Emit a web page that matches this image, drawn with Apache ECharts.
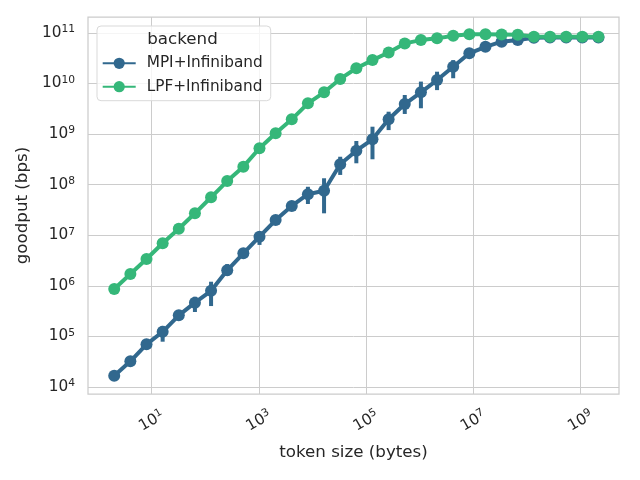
<!DOCTYPE html>
<html><head><meta charset="utf-8">
<script src="https://cdn.jsdelivr.net/npm/echarts@6.0.0/dist/echarts.min.js"></script>
<style>html,body{margin:0;padding:0;background:#fff}#c{width:640px;height:480px}</style>
</head><body><div id="c"></div>
<script>
// token sizes in bytes (2^1 ... 2^31)
const tokenSizes = [2, 4, 8, 16, 32, 64, 128, 256, 512, 1024, 2048, 4096, 8192, 16384, 32768, 65536,
  131072, 262144, 524288, 1048576, 2097152, 4194304, 8388608, 16777216, 33554432, 67108864,
  134217728, 268435456, 536870912, 1073741824, 2147483648];
const seriesNames = ['MPI+Infiniband', 'LPF+Infiniband'];
// goodput (bps)
const mpiGoodput = [1.68e4, 3.24e4, 7.0e4, 1.24e5, 2.62e5, 4.66e5, 8.0e5, 2.03e6, 4.4e6, 9.4e6,
  2.0e7, 3.8e7, 6.5e7, 7.6e7, 2.53e8, 4.7e8, 7.9e8, 1.96e9, 3.93e9, 6.7e9,
  1.17e10, 2.15e10, 3.95e10, 5.3e10, 6.7e10, 7.2e10, 8.0e10, 8.1e10, 8.1e10, 8.1e10, 8.1e10];
const mpiErrLow = [null, null, null, 7.9e4, null, 3.05e5, 4.0e5, 1.57e6, null, 6.46e6,
  null, null, 4.16e7, 2.72e7, 1.56e8, 2.65e8, 3.18e8, 1.2e9, 2.5e9, 3.24e9,
  7.4e9, 1.27e10, null, null, null, null, null, null, null, null, null];
const mpiErrHigh = [null, null, null, 1.62e5, null, 6.1e5, 1.21e6, 2.7e6, null, 1.16e7,
  null, null, 9.1e7, 1.34e8, 3.57e8, 7.3e8, 1.4e9, 2.77e9, 5.93e9, 1.09e10,
  1.71e10, 2.9e10, null, null, null, null, null, null, null, null, null];
const lpfGoodput = [8.7e5, 1.72e6, 3.4e6, 6.95e6, 1.35e7, 2.72e7, 5.64e7, 1.18e8, 2.27e8, 5.24e8,
  1.04e9, 1.96e9, 4.06e9, 6.7e9, 1.23e10, 2.0e10, 2.9e10, 4.1e10, 6.2e10, 7.2e10,
  7.8e10, 8.8e10, 9.4e10, 9.4e10, 9.3e10, 9.2e10, 8.4e10, 8.4e10, 8.4e10, 8.4e10, 8.4e10];
const xTickExponents = [1, 3, 5, 7, 9];
const yTickExponents = [4, 5, 6, 7, 8, 9, 10, 11];

const FONT = 'DejaVu Sans';
const TXT = '#262626';
const colors = ['#31688e', '#35b779'];
const LW = 4;
const lg = Math.log10;

const mpiData = tokenSizes.map((s, i) => [lg(s), lg(mpiGoodput[i])]);
const lpfData = tokenSizes.map((s, i) => [lg(s), lg(lpfGoodput[i])]);
const errData = [];
tokenSizes.forEach((s, i) => {
  if (mpiErrLow[i] != null) errData.push([lg(s), lg(mpiErrLow[i]), lg(mpiErrHigh[i])]);
});

const rich = {
  b: {fontSize: 15.3, fontFamily: FONT, color: TXT, lineHeight: 18},
  s: {fontSize: 10.7, fontFamily: FONT, color: TXT, lineHeight: 9, verticalAlign: 'top'}
};
const powLabel = v => '{b|10}{s|' + Math.round(v) + '}';

const chart = echarts.init(document.getElementById('c'), null, {renderer: 'canvas'});
chart.setOption({
  animation: false,
  backgroundColor: '#ffffff',
  textStyle: {fontFamily: FONT},
  grid: {left: 88, right: 21, top: 17, bottom: 86, show: true, borderColor: '#cccccc', borderWidth: 1.25, backgroundColor: '#ffffff'},
  xAxis: {
    type: 'value', min: -0.188, max: 9.715,
    name: 'token size (bytes)', nameLocation: 'middle', nameGap: 50,
    nameTextStyle: {fontSize: 16.7, color: TXT, fontFamily: FONT},
    axisLine: {show: false},
    axisTick: {show: false, customValues: xTickExponents},
    axisLabel: {customValues: xTickExponents, formatter: powLabel, rich: rich, rotate: 30,
      align: 'center', verticalAlign: 'middle', margin: 27},
    splitLine: {show: true, lineStyle: {color: '#cccccc', width: 1}}
  },
  yAxis: {
    type: 'value', min: 3.864, max: 11.314,
    name: 'goodput (bps)', nameLocation: 'middle', nameGap: 49, nameRotate: 90,
    nameTextStyle: {fontSize: 16.7, color: TXT, fontFamily: FONT},
    axisLine: {show: false},
    axisTick: {show: false, customValues: yTickExponents},
    axisLabel: {customValues: yTickExponents, formatter: powLabel, rich: rich, margin: 13},
    splitLine: {show: true, lineStyle: {color: '#cccccc', width: 1}}
  },
  legend: {
    orient: 'vertical', left: 97, top: 26, padding: [28.3, 8, 5, 4.7],
    itemWidth: 33, itemHeight: 14, itemGap: 5.4,
    backgroundColor: 'rgba(255,255,255,0.8)', borderColor: '#d9d9d9', borderWidth: 1, borderRadius: 4,
    textStyle: {fontSize: 15.3, color: TXT, fontFamily: FONT, lineHeight: 18, padding: [0, 0, 0, 6]},
    data: seriesNames
  },
  graphic: [{
    type: 'text', x: 182.5, y: 40, z: 100,
    style: {text: 'backend', fontSize: 16.7, fontFamily: FONT, fill: TXT, align: 'center', verticalAlign: 'middle'}
  }],
  series: [
    {
      type: 'custom', name: seriesNames[0] + ' err', silent: true, z: 2,
      data: errData, encode: {x: 0, y: [1, 2]},
      renderItem: (params, api) => {
        const p1 = api.coord([api.value(0), api.value(1)]);
        const p2 = api.coord([api.value(0), api.value(2)]);
        return {type: 'line', shape: {x1: p1[0], y1: p1[1], x2: p2[0], y2: p2[1]},
          style: {stroke: colors[0], lineWidth: LW}};
      }
    },
    {
      type: 'line', name: seriesNames[0], data: mpiData, z: 2,
      symbol: 'circle', symbolSize: 12, showAllSymbol: true,
      lineStyle: {width: LW, color: colors[0]}, itemStyle: {color: colors[0]},
      emphasis: {disabled: true}
    },
    {
      type: 'line', name: seriesNames[1], data: lpfData, z: 3,
      symbol: 'circle', symbolSize: 12, showAllSymbol: true,
      lineStyle: {width: LW, color: colors[1]}, itemStyle: {color: colors[1]},
      emphasis: {disabled: true}
    }
  ]
});
</script></body></html>
